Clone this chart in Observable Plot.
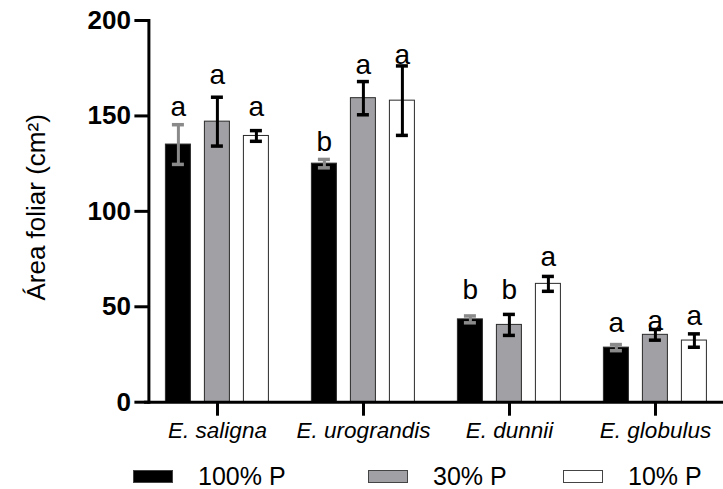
<!DOCTYPE html>
<html>
<head>
<meta charset="utf-8">
<script src="https://cdn.jsdelivr.net/npm/d3@7"></script>
<script src="https://cdn.jsdelivr.net/npm/@observablehq/plot@0.6"></script>
<style>
  html, body { margin: 0; padding: 0; background: #fff; overflow: hidden; }
  body { font-family: Arial, "Liberation Sans", sans-serif; width: 723px; height: 489px; }
  #legend { display: flex; align-items: center; height: 29px; padding-left: 133px; margin-top: 2px; font-size: 25px; color: #000; }
  #legend .item { display: flex; align-items: center; }
  #legend .sw { width: 40px; height: 13px; box-sizing: border-box; border: 1px solid #444; margin-right: 25px; }
</style>
</head>
<body>
<div id="chart"></div>
<div id="legend"></div>
<script>
// ---- data ----
const species = ["E. saligna", "E. urograndis", "E. dunnii", "E. globulus"];
const treatments = ["100% P", "30% P", "10% P"];
const mean100 = [135, 125, 43.4, 28.6];
const mean30  = [147, 159.3, 40.5, 35.3];
const mean10  = [139.5, 158, 62, 32.3];
const err100  = [10.4, 2.2, 1.8, 1.6];
const err30   = [12.8, 8.7, 5.5, 2.8];
const err10   = [2.8, 18.2, 3.9, 3.5];
const letters100 = ["a", "b", "b", "a"];
const letters30  = ["a", "a", "b", "a"];
const letters10  = ["a", "a", "a", "a"];
const letterY100 = [149.7, 131.8, 54.2, 36.7];
const letterY30  = [166.8, 172, 54.2, 37.6];
const letterY10  = [149.7, 177.3, 71.6, 40.2];
const yTicks = [0, 50, 100, 150, 200];
const yTitle = "Área foliar (cm²)";

// ---- styles ----
const fills = ["#000000", "#a1a1a5", "#ffffff"];
const errColors = ["#8a8a8a", "#000000", "#000000"];

const means = [mean100, mean30, mean10];
const errs = [err100, err30, err10];
const letters = [letters100, letters30, letters10];
const letterYs = [letterY100, letterY30, letterY10];

const rows = [];
species.forEach((s, i) => {
  treatments.forEach((t, j) => {
    rows.push({species: s, treatment: t, mean: means[j][i], err: errs[j][i],
      letter: letters[j][i], letterY: letterYs[j][i], errColor: errColors[j]});
  });
});
const lo = d => d.mean - d.err;
const hi = d => d.mean + d.err;

function errMarks(color) {
  const f = d => d.errColor === color;
  return [
    Plot.ruleX(rows, {filter: f, fx: "species", x: "treatment", y1: lo, y2: hi, stroke: color, strokeWidth: 3}),
    Plot.tickY(rows, {filter: f, fx: "species", x: "treatment", y: hi, stroke: color, strokeWidth: 3.5, inset: 6.5}),
    Plot.tickY(rows, {filter: f, fx: "species", x: "treatment", y: lo, stroke: color, strokeWidth: 3.5, inset: 6.5})
  ];
}

const chart = Plot.plot({
  width: 723,
  height: 460,
  marginTop: 20,
  marginBottom: 58.3,
  marginLeft: 142.6,
  marginRight: -6.8,
  style: {fontFamily: 'Arial, "Liberation Sans", sans-serif', background: "#fff", color: "#000", overflow: "visible"},
  fx: {domain: species, range: [142.6, 729.8], padding: 0, label: null},
  x: {domain: treatments, paddingInner: 0.35, paddingOuter: 0.51, axis: null},
  y: {domain: [0, 200]},
  color: {domain: treatments, range: fills},
  marks: [
    Plot.barY(rows, {fx: "species", x: "treatment", y: "mean", fill: "treatment", stroke: "#2a2a2a", strokeWidth: 1}),
    ...errMarks(errColors[0]),
    ...errMarks(errColors[1]),
    Plot.text(rows, {fx: "species", x: "treatment", y: "letterY", text: "letter", fontSize: 28, lineAnchor: "bottom", fill: "#000"}),
    Plot.ruleY([0], {strokeWidth: 3, stroke: "#000"}),
    Plot.frame({anchor: "left", facetAnchor: "left", strokeWidth: 3, stroke: "#000", dx: 4.4}),
    Plot.axisY({ticks: yTicks, tickSize: 14, strokeWidth: 3, tickPadding: 4, fontSize: 26, fontWeight: "bold", label: null, dx: 4.4}),
    Plot.axisFx({anchor: "bottom", tickSize: 14, strokeWidth: 3, tickPadding: 6, fontSize: 22.5, fontStyle: "italic", label: null}),
    Plot.text([yTitle], {frameAnchor: "left", facetAnchor: "left", rotate: -90, dx: -108, dy: -4, textAnchor: "middle", lineAnchor: "middle", fontSize: 26, fill: "#000"})
  ]
});
document.getElementById("chart").appendChild(chart);

// legend built from the same arrays
const legend = document.getElementById("legend");
const itemWidths = ["235px", "195px", "auto"];
treatments.forEach((t, j) => {
  const item = document.createElement("div");
  item.className = "item";
  item.style.width = itemWidths[j];
  const sw = document.createElement("span");
  sw.className = "sw";
  sw.style.background = fills[j];
  const label = document.createElement("span");
  label.textContent = t;
  item.appendChild(sw);
  item.appendChild(label);
  legend.appendChild(item);
});
</script>
</body>
</html>
